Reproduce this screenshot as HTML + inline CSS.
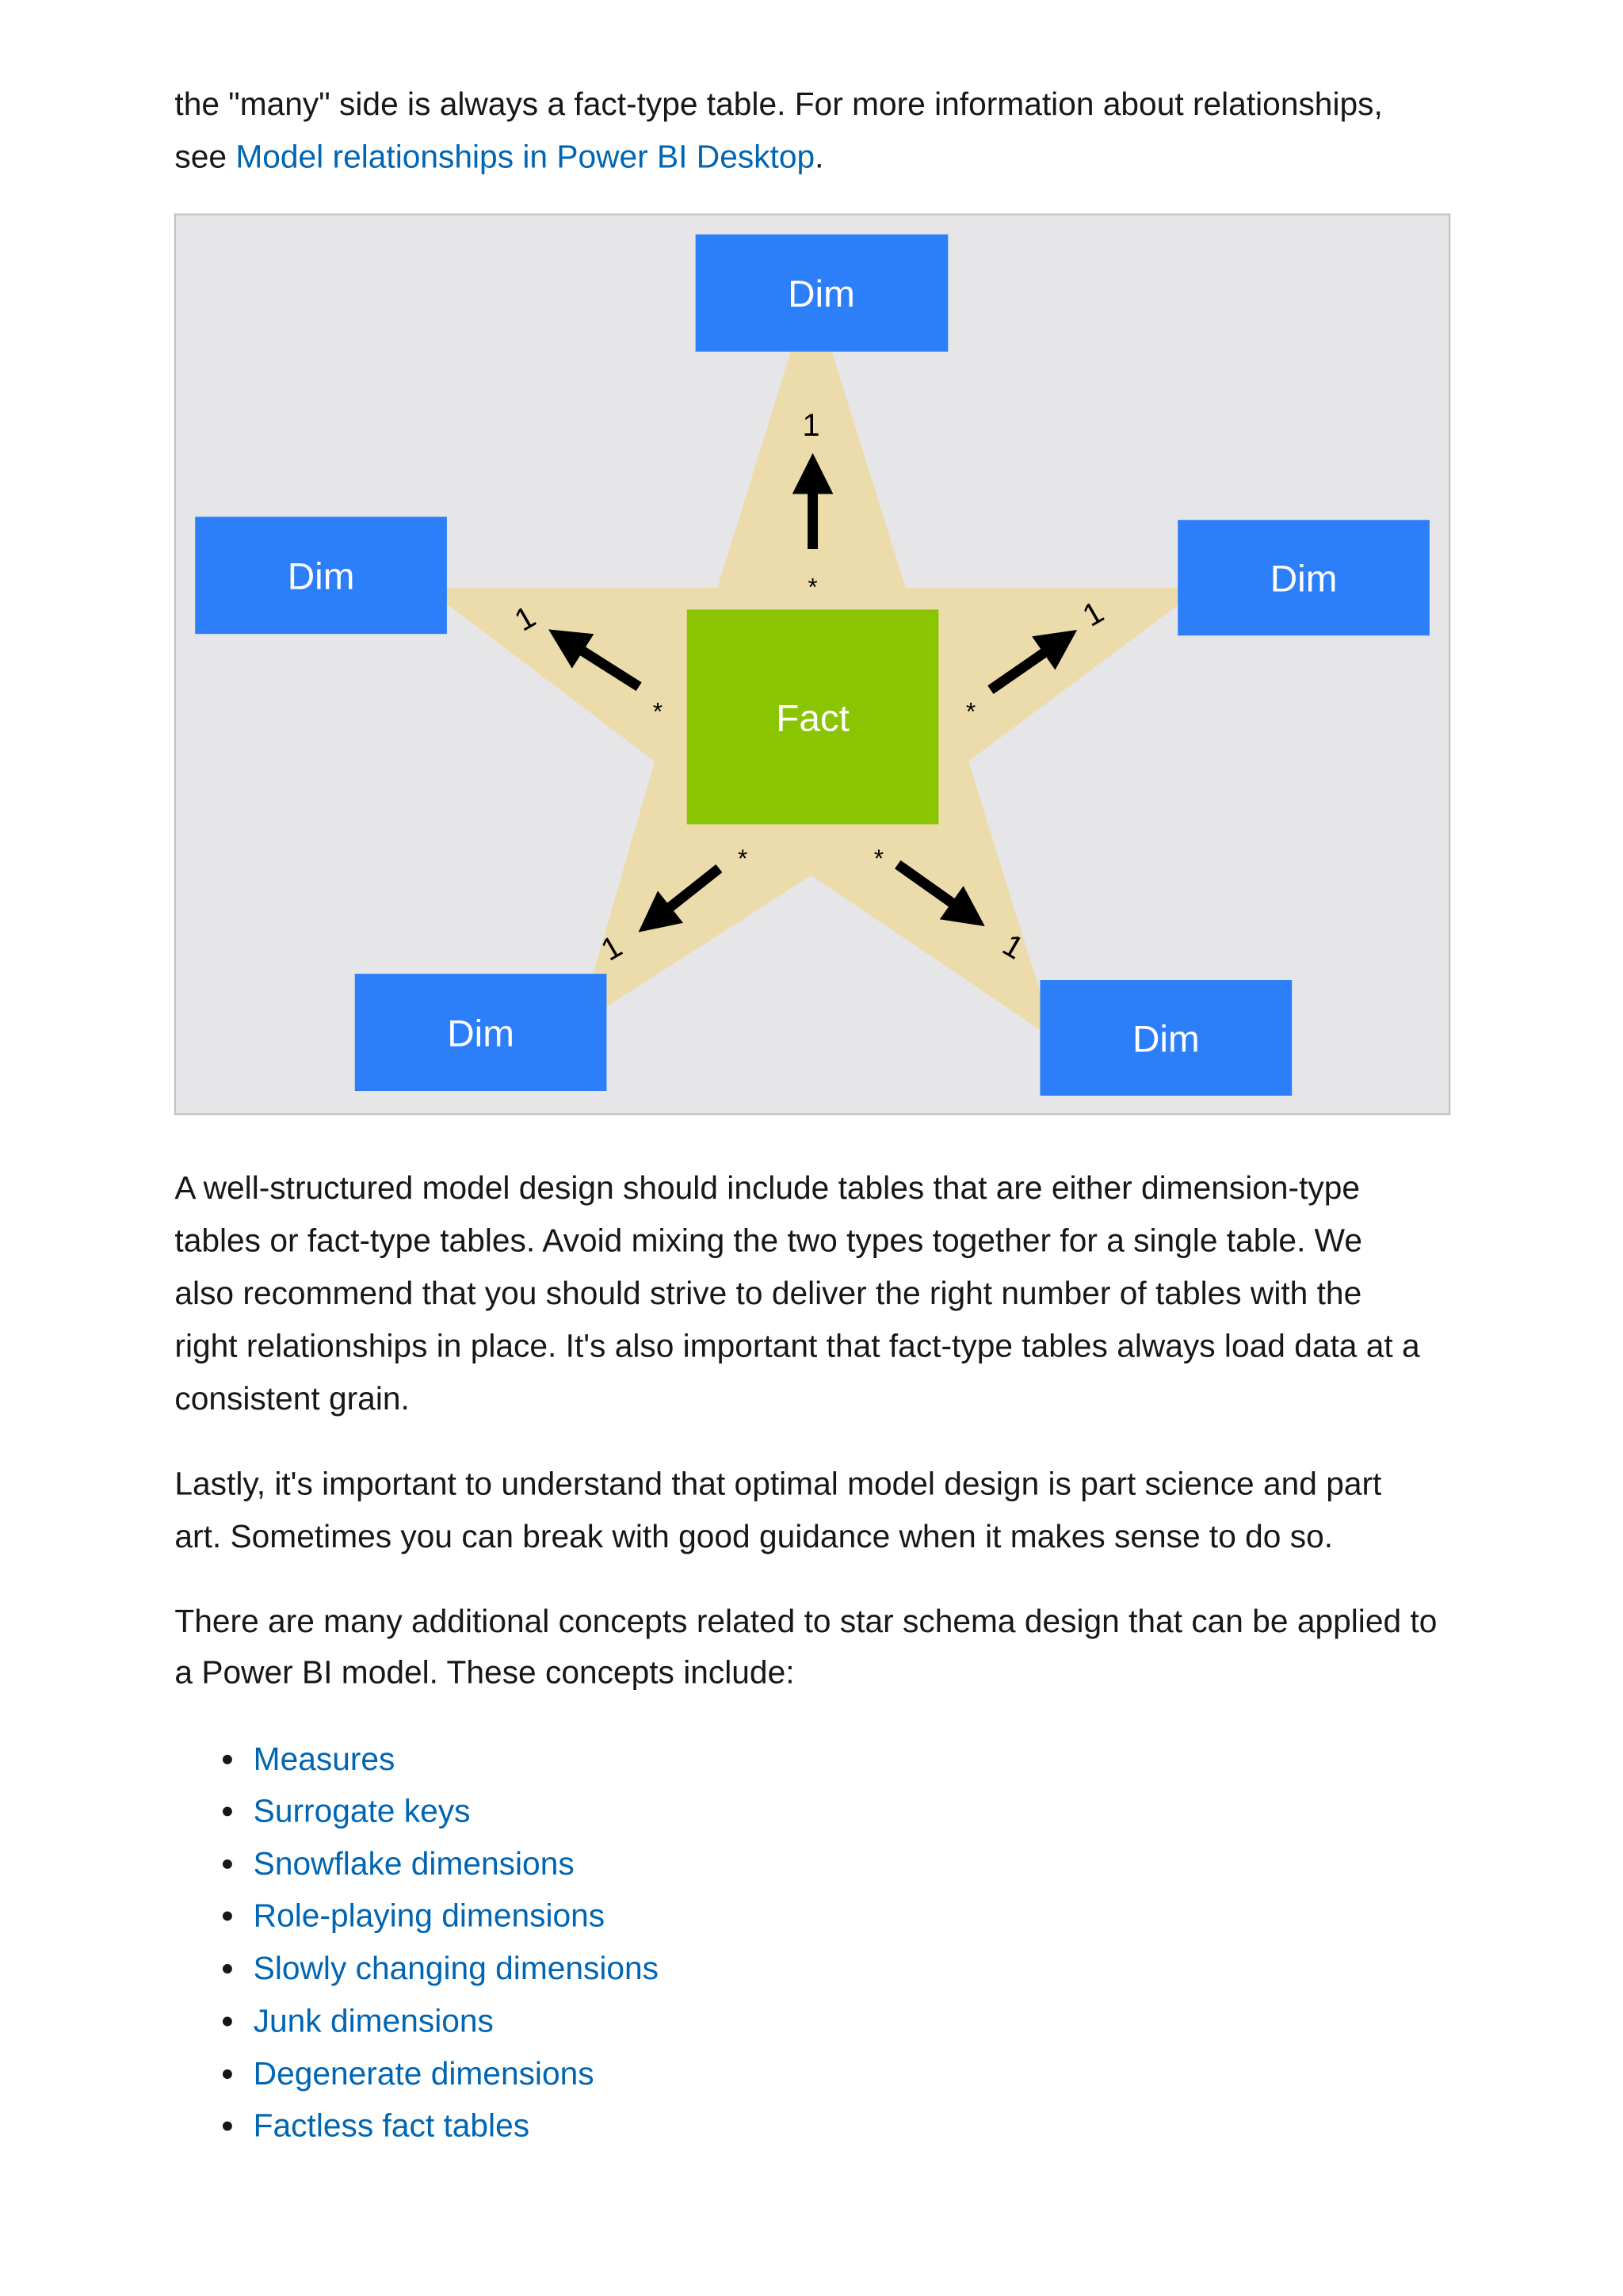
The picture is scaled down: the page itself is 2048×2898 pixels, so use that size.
<!DOCTYPE html>
<html><head><meta charset="utf-8"><style>
body{margin:0;width:2048px;height:2898px;background:#fff;position:relative;overflow:hidden;font-family:"Liberation Sans",sans-serif;color:#171717}
#w{position:absolute;left:0;top:0;width:2048px;height:2898px;transform:scale(0.9928);transform-origin:0 0}
.l{position:absolute;left:222px;font-size:41px;line-height:66px;white-space:nowrap}
a{color:#0065b3;text-decoration:none}
.b{position:absolute;left:322px;font-size:41px;line-height:66px;white-space:nowrap;color:#0065b3}
.b:before{content:"";position:absolute;left:-39px;top:28px;width:12px;height:12px;border-radius:50%;background:#171717}
</style></head><body><div id="w">
<div class="l" style="top:99px">the "many" side is always a fact-type table. For more information about relationships,</div>
<div class="l" style="top:166px">see <a>Model relationships in Power BI Desktop</a>.</div>
<svg style="position:absolute;left:0;top:0" width="2048" height="1500" font-family="Liberation Sans, sans-serif">
<rect x="222.5" y="272.5" width="1620" height="1144" fill="#e6e6e8" stroke="#bdbdbd" stroke-width="2"/>
<polygon points="1031,363 1151,747 1527,747 1231,968 1341,1322 1031,1113 735,1303 832,968 540,747 912,747" fill="#ecdcac"/>
<g fill="#2d7ff9">
<rect x="884" y="298" width="321" height="149"/>
<rect x="248" y="657" width="320" height="149"/>
<rect x="1497" y="661" width="320" height="147"/>
<rect x="451" y="1238" width="320" height="149"/>
<rect x="1322" y="1246" width="320" height="147"/>
</g>
<rect x="873" y="775" width="320" height="273" fill="#8bc400"/>
<g fill="#fff" font-size="48" text-anchor="middle">
<text x="1044" y="390">Dim</text>
<text x="408" y="749">Dim</text>
<text x="1657" y="752">Dim</text>
<text x="611" y="1330">Dim</text>
<text x="1482" y="1337">Dim</text>
<text x="1033" y="929">Fact</text>
</g>
<defs><marker id="h" markerWidth="4" markerHeight="4" refX="1" refY="2" orient="auto" markerUnits="strokeWidth"><path d="M0,0L4,2L0,4z" fill="#000"/></marker></defs>
<g stroke="#000" stroke-width="13" marker-end="url(#h)">
<line x1="1033" y1="698" x2="1033" y2="615"/>
<line x1="812" y1="873" x2="730" y2="821"/>
<line x1="1259" y1="877" x2="1337" y2="823"/>
<line x1="914" y1="1104" x2="842" y2="1161"/>
<line x1="1141" y1="1099" x2="1220" y2="1155"/>
</g>
<g font-size="40" text-anchor="middle" fill="#000">
<text x="1031" y="554">1</text>
<text transform="translate(674,798) rotate(-30)">1</text>
<text transform="translate(1396,792) rotate(-30)">1</text>
<text transform="translate(784,1217) rotate(-30)">1</text>
<text transform="translate(1281,1215) rotate(30)">1</text>
</g>
<g font-size="32" text-anchor="middle" fill="#000">
<text x="1033" y="757">*</text>
<text x="836" y="915">*</text>
<text x="1234" y="915">*</text>
<text x="944" y="1102">*</text>
<text x="1117" y="1102">*</text>
</g>
</svg>
<div class="l" style="top:1477px">A well-structured model design should include tables that are either dimension-type</div>
<div class="l" style="top:1544px">tables or fact-type tables. Avoid mixing the two types together for a single table. We</div>
<div class="l" style="top:1611px">also recommend that you should strive to deliver the right number of tables with the</div>
<div class="l" style="top:1678px">right relationships in place. It's also important that fact-type tables always load data at a</div>
<div class="l" style="top:1745px">consistent grain.</div>
<div class="l" style="top:1853px">Lastly, it's important to understand that optimal model design is part science and part</div>
<div class="l" style="top:1920px">art. Sometimes you can break with good guidance when it makes sense to do so.</div>
<div class="l" style="top:2028px">There are many additional concepts related to star schema design that can be applied to</div>
<div class="l" style="top:2093px">a Power BI model. These concepts include:</div>
<div class="b" style="top:2203px">Measures</div>
<div class="b" style="top:2269px">Surrogate keys</div>
<div class="b" style="top:2336px">Snowflake dimensions</div>
<div class="b" style="top:2402px">Role-playing dimensions</div>
<div class="b" style="top:2469px">Slowly changing dimensions</div>
<div class="b" style="top:2536px">Junk dimensions</div>
<div class="b" style="top:2603px">Degenerate dimensions</div>
<div class="b" style="top:2669px">Factless fact tables</div>
</div></body></html>
